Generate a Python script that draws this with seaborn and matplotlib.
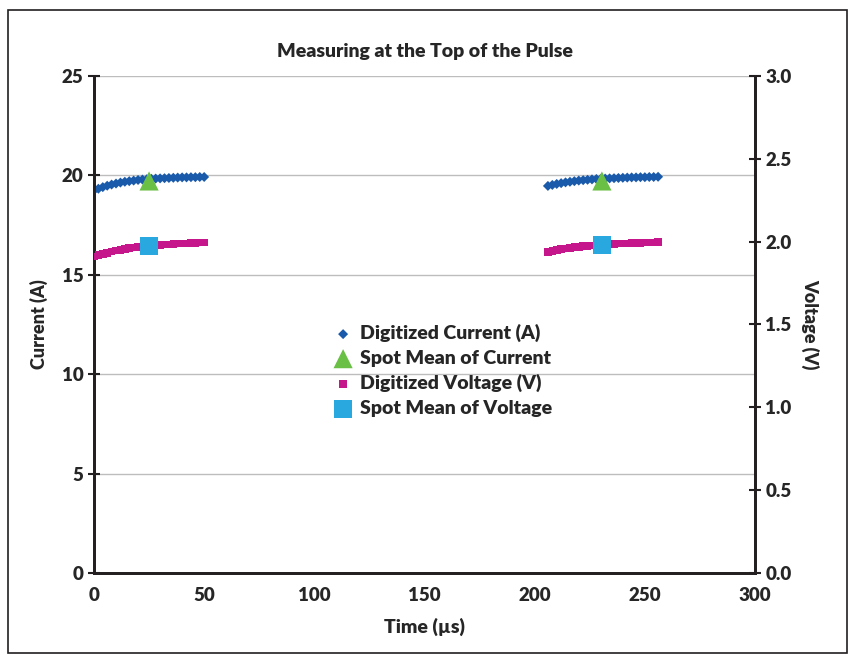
import pandas as pd
import matplotlib.pyplot as plt
import seaborn as sns
from matplotlib.patches import Rectangle

# readings taken off the chart (time in us)
t_first = [0, 2, 4, 6, 8, 10, 12, 14, 16, 18, 20, 22, 24, 26, 28, 30, 32, 34, 36, 38, 40, 42, 44, 46, 48, 50]
t_second = [206, 208, 210, 212, 214, 216, 218, 220, 222, 224, 226, 228, 230, 232, 234, 236, 238, 240, 242, 244,
            246, 248, 250, 252, 254, 256]

current_first = [19.25, 19.33, 19.41, 19.48, 19.54, 19.59, 19.64, 19.68, 19.71, 19.74, 19.77, 19.79, 19.81,
                 19.83, 19.84, 19.85, 19.86, 19.87, 19.88, 19.89, 19.90, 19.90, 19.91, 19.91, 19.92, 19.92]
current_second = [19.47, 19.52, 19.57, 19.61, 19.65, 19.68, 19.71, 19.74, 19.76, 19.78, 19.80, 19.82, 19.83,
                  19.84, 19.85, 19.86, 19.87, 19.88, 19.89, 19.90, 19.90, 19.91, 19.91, 19.92, 19.92, 19.93]

voltage_first = [1.910, 1.918, 1.926, 1.933, 1.940, 1.946, 1.951, 1.956, 1.960, 1.964, 1.967, 1.970, 1.973,
                 1.976, 1.978, 1.980, 1.982, 1.984, 1.986, 1.988, 1.989, 1.990, 1.992, 1.993, 1.994, 1.995]
voltage_second = [1.937, 1.943, 1.949, 1.954, 1.958, 1.962, 1.966, 1.969, 1.972, 1.975, 1.977, 1.979, 1.981,
                  1.983, 1.985, 1.986, 1.988, 1.989, 1.990, 1.991, 1.992, 1.993, 1.994, 1.995, 1.996, 1.997]

spot_time = [25, 230.5]
spot_current = [19.72, 19.72]
spot_voltage = [1.975, 1.98]

cur = pd.DataFrame({'Time': t_first + t_second, 'Current': current_first + current_second})
volt = pd.DataFrame({'Time': t_first + t_second, 'Voltage': voltage_first + voltage_second})
spots = pd.DataFrame({'Time': spot_time, 'Current': spot_current, 'Voltage': spot_voltage})

sns.set_style('white')
plt.rcParams['font.family'] = ['Lato', 'DejaVu Sans']
plt.rcParams['font.weight'] = 'bold'

fig = plt.figure(figsize=(8.63, 6.58), dpi=100)
ax = fig.add_axes([0.1089, 0.1292, 0.766, 0.7553])
ax2 = ax.twinx()

sns.scatterplot(data=cur, x='Time', y='Current', ax=ax, marker='D', s=26, color='#1a5aab',
                edgecolor='none', label='Digitized Current (A)', zorder=3)
sns.scatterplot(data=spots, x='Time', y='Current', ax=ax, marker='^', s=190, color='#6abf45',
                edgecolor='none', label='Spot Mean of Current', zorder=4)
sns.scatterplot(data=volt, x='Time', y='Voltage', ax=ax2, marker='s', s=30, color='#c5168c',
                edgecolor='none', label='Digitized Voltage (V)', zorder=3)
sns.scatterplot(data=spots, x='Time', y='Voltage', ax=ax2, marker='s', s=170, color='#29a8e0',
                edgecolor='none', label='Spot Mean of Voltage', zorder=4)

ax.set_xlim(0, 300)
ax.set_ylim(0, 25)
ax2.set_ylim(0, 3.0)
ax.set_xticks(range(0, 301, 50))
ax.set_yticks(range(0, 26, 5))
ax2.set_yticks([0.0, 0.5, 1.0, 1.5, 2.0, 2.5, 3.0])
ax2.set_yticklabels(['0.0', '0.5', '1.0', '1.5', '2.0', '2.5', '3.0'])

ax.grid(axis='y', color='#bdbdbd', linewidth=1)
ax.set_axisbelow(True)
for a in (ax, ax2):
    a.spines['top'].set_visible(False)
    for side in ('left', 'right', 'bottom'):
        a.spines[side].set_color('#231f20')
        a.spines[side].set_linewidth(2)
    a.tick_params(direction='inout', length=8, width=1.5, color='#231f20', labelsize=13.5)
    for lab in a.get_xticklabels() + a.get_yticklabels():
        lab.set_fontweight('heavy')
ax.tick_params(axis='x', pad=6)

ax.set_xlabel('Time (µs)', fontsize=14, fontweight='heavy', labelpad=10)
ax.set_ylabel('Current (A)', fontsize=13, fontweight='heavy', labelpad=10)
ax2.set_ylabel('Voltage (V)', fontsize=13, fontweight='heavy', rotation=270, labelpad=20)
ax.set_title('Measuring at the Top of the Pulse', fontsize=14, fontweight='heavy', pad=14)

h1, l1 = ax.get_legend_handles_labels()
h2, l2 = ax2.get_legend_handles_labels()
ax.get_legend().remove()
ax2.get_legend().remove()
leg = fig.legend(h1 + h2, l1 + l2, loc='center', bbox_to_anchor=(0.51, 0.437), frameon=False,
                 fontsize=14, handletextpad=0.1, labelspacing=0.38, borderpad=0, handlelength=1.5)
for txt in leg.get_texts():
    txt.set_fontweight('heavy')

fig.patches.append(Rectangle((0.009, 0.007), 0.973, 0.978, transform=fig.transFigure,
                             fill=False, edgecolor='#231f20', linewidth=1.2))

fig.savefig('out.png', dpi=100)
